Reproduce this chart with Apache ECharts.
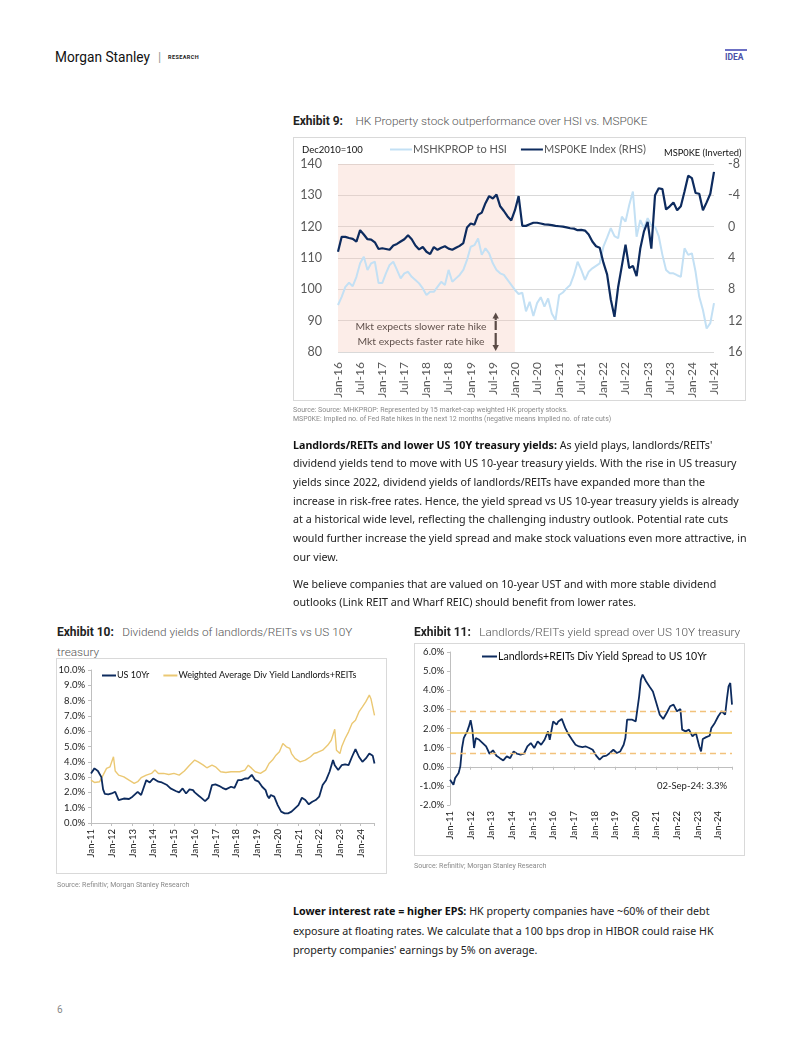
<!DOCTYPE html>
<html><head><meta charset="utf-8">
<script src="https://cdn.jsdelivr.net/npm/echarts@6/dist/echarts.min.js"></script>
<style>
html,body{margin:0;padding:0;background:#fff;}
#page{position:relative;width:802px;height:1037px;overflow:hidden;background:#fff;font-family:'Noto Sans',sans-serif;color:#222;}
.a{position:absolute;white-space:nowrap;}
.box{position:absolute;border:1px solid #d9d9d9;box-sizing:border-box;pointer-events:none;}
.ttl b{font-family:Roboto,sans-serif;font-weight:700;color:#222;font-size:12px;}
.ttl span{font-family:Roboto,sans-serif;font-weight:300;color:#555;font-size:11.8px;}
.src{font-family:Roboto,sans-serif;font-size:7px;line-height:9px;color:#8a8a8a;}
.para div{white-space:nowrap;}
.para b{color:#111;}
</style></head>
<body><div id="page">
  <div class="a" id="ms" style="left:55px;top:48px;font-family:Roboto,sans-serif;font-size:15px;line-height:18px;color:#111;transform-origin:0 50%;">Morgan Stanley</div>
  <div class="a" style="left:158px;top:49px;font-family:Roboto,sans-serif;font-size:13px;line-height:16px;color:#999;">|</div>
  <div class="a" style="left:168px;top:53px;font-family:Roboto,sans-serif;font-size:5.5px;line-height:8px;font-weight:700;letter-spacing:0.4px;color:#222;">RESEARCH</div>
  <div class="a" style="left:725px;top:49px;width:22px;border-top:2px solid #6c70c4;"></div>
  <div class="a" style="left:725px;top:52px;font-family:Roboto,sans-serif;font-size:8.5px;line-height:10px;font-weight:700;color:#4b50a8;">IDEA</div>

  <div class="a ttl" style="left:293px;top:111px;line-height:16px;"><b>Exhibit 9:</b>&nbsp;&nbsp; <span>HK Property stock outperformance over HSI vs. MSP0KE</span></div>
  <div class="a" id="c1" style="left:293px;top:137px;width:452px;height:264px;"></div>
  <div class="box" style="left:293px;top:137px;width:453px;height:264px;"></div>
  <div class="a src" style="left:293px;top:406px;">Source: Source: MHKPROP: Represented by 15 market-cap weighted HK property stocks.<br>MSP0KE: Implied no. of Fed Rate hikes in the next 12 months (negative means implied no. of rate cuts)</div>

  <div class="a para" style="left:293px;top:435.6px;line-height:18.7px;">
    <div><b>Landlords/REITs and lower US 10Y treasury yields:</b> As yield plays, landlords/REITs'</div>
    <div>dividend yields tend to move with US 10-year treasury yields. With the rise in US treasury</div>
    <div>yields since 2022, dividend yields of landlords/REITs have expanded more than the</div>
    <div>increase in risk-free rates. Hence, the yield spread vs US 10-year treasury yields is already</div>
    <div>at a historical wide level, reflecting the challenging industry outlook. Potential rate cuts</div>
    <div id="fitline">would further increase the yield spread and make stock valuations even more attractive, in</div>
    <div>our view.</div>
  </div>
  <div class="a para" style="left:293px;top:574.6px;line-height:18.7px;">
    <div>We believe companies that are valued on 10-year UST and with more stable dividend</div>
    <div>outlooks (Link REIT and Wharf REIC) should benefit from lower rates.</div>
  </div>

  <div class="a ttl" style="left:57px;top:621px;line-height:18px;"><b>Exhibit 10:</b>&nbsp; <span>Dividend yields of landlords/REITs vs US 10Y</span><br><span>treasury</span></div>
  <div class="a" id="c10" style="left:56px;top:658px;width:331px;height:216px;"></div>
  <div class="box" style="left:56px;top:658px;width:331px;height:216px;"></div>
  <div class="a src" style="left:57px;top:881px;">Source: Refinitiv; Morgan Stanley Research</div>

  <div class="a ttl" style="left:414px;top:622px;line-height:16px;"><b>Exhibit 11:</b>&nbsp; <span>Landlords/REITs yield spread over US 10Y treasury</span></div>
  <div class="a" id="c11" style="left:414px;top:643px;width:331px;height:213px;"></div>
  <div class="box" style="left:414px;top:643px;width:331px;height:213px;"></div>
  <div class="a src" style="left:414px;top:862px;">Source: Refinitiv; Morgan Stanley Research</div>

  <div class="a para" style="left:293px;top:902.3px;line-height:19.4px;">
    <div><b>Lower interest rate = higher EPS:</b> HK property companies have ~60% of their debt</div>
    <div>exposure at floating rates. We calculate that a 100 bps drop in HIBOR could raise HK</div>
    <div>property companies' earnings by 5% on average.</div>
  </div>

  <div class="a" style="left:57px;top:1003px;font-family:Roboto,sans-serif;font-size:10px;line-height:14px;color:#888;">6</div>
</div>
<script>
// ---------------- DATA ----------------
// Exhibit 9 (monthly, Jan-16 .. Jul-24)
const ex9Start = {year: 2016, month: 0};
const ex9Count = 103;
const mshkprop = [95,97.6,100.8,102.1,101,104,108.3,110.4,106.2,108.3,
  108.8,102,102,105.1,107.8,108.8,106.2,103.5,105.1,105.6,
  104,103,101.9,100.3,98.2,99.2,99.2,100.8,102.4,101.4,
  106.2,102.4,103.5,104.6,106.2,109.4,113.6,114.1,116.2,111,
  113.1,111.5,108.3,106.2,105.1,104.6,103,101.4,99.8,98.5,
  98.9,93,96,91.5,95.6,97.5,94.5,97.1,92.3,90.2,
  98.2,99,100.3,101.4,104.6,108.8,106.2,103,105.6,106.7,
  107.5,108.3,113.6,116.5,119.5,117,116.3,123.2,121.6,126.9,
  131.2,116.8,122.1,119.5,122.7,120.5,120,117,111,106.2,
  105.1,105.1,104.5,104,113.1,111,111.5,105.6,97.6,93.4,
  87.5,89.2,95.6];
const msp0ke = [3.2,1.3,1.3,1.45,1.55,1.9,0.45,1.0,1.6,1.65,
  2.0,2.85,2.75,2.85,2.95,2.4,2.2,1.9,1.6,1.1,
  1.6,2.4,2.9,2.6,3.2,3.5,2.6,2.95,2.7,2.5,
  2.8,2.95,2.7,2.45,2.1,0.1,-0.4,-0.25,-1.5,-1.8,
  -3.0,-3.9,-3.6,-4.1,-2.6,-2.0,-1.3,-0.8,-2.1,-3.9,
  -0.1,-0.1,-0.3,-0.5,-0.5,-0.4,-0.3,-0.25,-0.2,-0.1,
  -0.05,0.0,0.1,0.2,0.25,0.45,0.4,0.5,1.0,1.9,
  2.5,2.7,4.6,6.1,9.3,11.5,7.7,5.0,2.3,5.3,
  5.0,6.3,2.8,0.6,-0.6,2.8,-4.0,-4.9,-4.8,-2.2,
  -2.6,-3.1,-2.1,-2.6,-4.5,-6.5,-6.2,-4.3,-4.2,-2.1,
  -3.1,-4.2,-7.0];
const shadeFrom = 'Jan-16', shadeTo = 'Jan-20';
const leftTicks = {min: 80, max: 140, interval: 10};
const rightTicks = {min: -8, max: 16, interval: 4};

// Exhibit 10 & 11: [months since Jan-2011, value %]
const us10yr = [[0,3.24],[2,3.57],[4,3.4],[6,3.0],[7,2.2],[8,1.9],[10,1.87],[12,1.93],[14,2.04],[16,1.5],
  [19,1.6],[22,1.57],[24,1.72],[27,2.04],[29,1.83],[31,2.48],[32,2.8],[34,2.65],[36,2.91],[39,2.7],
  [41,2.65],[44,2.48],[46,2.26],[49,2.09],[51,2.0],[53,2.26],[55,1.93],[57,2.2],[59,2.15],[60,2.0],
  [63,1.72],[66,1.43],[68,1.65],[70,2.48],[72,2.52],[74,2.43],[76,2.3],[78,2.2],[81,2.37],[83,2.3],
  [85,2.8],[87,2.8],[89,2.91],[91,2.91],[93,3.15],[95,2.8],[97,2.7],[99,2.37],[101,2.15],[102,1.8],
  [103,1.61],[104,1.83],[106,1.72],[108,1.17],[110,0.74],[112,0.63],[114,0.63],[116,0.74],[118,0.96],[120,1.17],
  [122,1.65],[124,1.5],[126,1.22],[128,1.39],[130,1.5],[132,1.72],[134,2.48],[136,2.8],[138,3.35],[140,4.11],
  [141,3.78],[143,3.46],[145,3.78],[147,3.83],[149,3.78],[151,4.33],[153,4.83],[155,4.33],[157,4.0],[159,4.22],
  [161,4.54],[163,4.39],[164,3.89]];
const divYield = [[0,2.8],[2,2.65],[5,2.7],[7,3.13],[9,3.57],[11,3.67],[13,4.33],[14,3.4],[16,3.13],[19,3.02],
  [22,2.8],[25,2.59],[27,2.7],[29,2.96],[32,3.13],[35,3.24],[37,3.46],[39,3.24],[42,3.24],[45,3.17],
  [48,3.24],[51,3.13],[54,3.4],[57,3.78],[60,4.11],[62,4.0],[65,3.78],[67,3.61],[70,3.78],[72,3.67],
  [75,3.35],[78,3.3],[81,3.35],[84,3.35],[86,3.35],[89,3.46],[91,3.78],[93,3.57],[95,3.35],[98,3.24],
  [101,3.46],[103,3.89],[105,4.11],[107,4.43],[109,4.65],[111,5.2],[113,4.98],[115,4.87],[116,4.54],[118,4.22],
  [121,4.0],[124,4.11],[127,4.33],[129,4.54],[131,4.61],[134,4.76],[137,5.09],[139,5.41],[141,6.13],[142,4.76],
  [144,4.54],[145,4.98],[147,5.52],[149,5.96],[151,6.5],[153,6.72],[155,7.26],[157,7.59],[159,7.93],[161,8.36],
  [162,8.1],[164,7.04]];
const spread = [[0,-0.68],[1,-0.77],[2,-0.94],[3,-0.59],[5,-0.33],[6,0.02],[7,0.98],[8,1.5],[9,1.68],[10,1.85],
  [11,2.11],[12,2.43],[13,1.94],[14,0.98],[15,1.5],[17,1.41],[19,1.24],[21,1.06],[23,0.68],[25,0.86],
  [27,0.58],[29,0.45],[31,0.33],[33,0.54],[35,0.45],[37,0.8],[39,0.68],[41,0.63],[43,0.68],[45,1.06],
  [47,1.24],[49,0.98],[51,1.33],[53,1.15],[55,1.41],[57,1.85],[58,1.41],[60,2.37],[62,2.2],[63,2.37],
  [65,2.5],[67,2.03],[69,1.68],[71,1.41],[73,1.15],[75,1.06],[77,1.03],[79,1.06],[81,0.98],[83,0.89],
  [85,0.58],[87,0.37],[89,0.54],[91,0.58],[93,0.72],[95,0.89],[97,0.72],[99,0.8],[101,1.15],[102,1.5],
  [103,2.46],[104,2.37],[106,2.46],[108,2.37],[110,3.68],[111,4.55],[112,4.82],[114,4.47],[116,4.2],[118,3.94],
  [120,3.33],[122,2.72],[124,2.5],[126,2.81],[128,3.16],[130,3.25],[132,2.9],[134,3.02],[135,1.94],[137,1.85],
  [139,1.94],[141,1.59],[143,1.76],[145,1.06],[146,0.8],[147,1.45],[149,1.55],[151,1.62],[152,2.03],[154,2.29],
  [156,2.64],[158,2.9],[160,2.72],[161,3.51],[162,4.2],[163,4.38],[164,3.25]];
const spreadMean = 1.78, spreadUpper = 2.88, spreadLower = 0.68;
const spreadNote = '02-Sep-24: 3.3%';
const yearAxis = {min: 2011, lastMonth: 164, interval: 1};

// ---------------- HELPERS ----------------
const MON = ['Jan','Feb','Mar','Apr','May','Jun','Jul','Aug','Sep','Oct','Nov','Dec'];
const months = [];
for (let i = 0; i < ex9Count; i++) {
  const t = ex9Start.year * 12 + ex9Start.month + i;
  months.push(MON[t % 12] + '-' + String(Math.floor(t / 12)).slice(2));
}
const toYear = arr => arr.map(([m, v]) => [yearAxis.min + m / 12, v]);
const xMax = yearAxis.min + yearAxis.lastMonth / 12;
const yearLabel = v => (Math.abs(v - Math.round(v)) < 1e-6) ? 'Jan-' + String(Math.round(v)).slice(2) : '';
const pct = v => v.toFixed(1) + '%';
const ctx = document.createElement('canvas').getContext('2d');
function measure(text, font) { ctx.font = font; return ctx.measureText(text).width; }

// fit body text
const bodySize = 100 * 454 / measure(document.getElementById('fitline').textContent, "400 100px 'Noto Sans'");
document.querySelectorAll('.para').forEach(e => e.style.fontSize = bodySize.toFixed(2) + 'px');
const ms = document.getElementById('ms');
ms.style.transform = 'scaleX(' + (95 / measure('Morgan Stanley', "400 15px Roboto")).toFixed(3) + ')';

const NAVY = '#0d2b5e', LIGHT = '#c3e0f4', GOLD = '#ebc873';
const FF = 'Lato, sans-serif';
const leg1Font = 11.3 * 94 / (measure('MSHKPROP to HSI', '11.3px Lato'));
const leg11Font = 100 * 209 / measure('Landlords+REITs Div Yield Spread to US 10Yr', '100px Lato');

// ---------------- EXHIBIT 9 ----------------
const annFont = 100 * 131 / measure('Mkt expects slower rate hike', '100px Lato');
const c1 = echarts.init(document.getElementById('c1'));
c1.setOption({
  animation: false,
  textStyle: {fontFamily: FF},
  grid: {left: 45, right: 31, top: 27, bottom: 49, containLabel: false, outerBoundsMode: 'none'},
  legend: {
    left: 97, top: 7, padding: 0, itemGap: 14, itemWidth: 22, itemHeight: 2, icon: 'rect',
    textStyle: {fontSize: leg1Font, color: '#595959', fontFamily: FF, padding: [0, 0, 0, -4]},
    data: ['MSHKPROP to HSI', 'MSP0KE Index (RHS)']
  },
  xAxis: {
    type: 'category', data: months, boundaryGap: false,
    axisLine: {show: false}, axisTick: {show: false}, splitLine: {show: false},
    axisLabel: {interval: 5, rotate: 90, fontSize: 12, color: '#595959', margin: 10, fontFamily: FF}
  },
  yAxis: [
    {type: 'value', min: leftTicks.min, max: leftTicks.max, interval: leftTicks.interval,
     axisLine: {show: false}, axisTick: {show: false},
     axisLabel: {fontSize: 12.5, color: '#595959', margin: 16, fontFamily: FF},
     splitLine: {lineStyle: {color: '#d9d9d9', width: 1}}},
    {type: 'value', min: rightTicks.min, max: rightTicks.max, interval: rightTicks.interval, inverse: true, position: 'right',
     axisLine: {show: false}, axisTick: {show: false},
     axisLabel: {fontSize: 12.5, color: '#595959', margin: 14, fontFamily: FF},
     splitLine: {show: false}}
  ],
  series: [
    {type: 'line', name: 'shade', data: [], silent: true, z: 1,
     markArea: {silent: true, itemStyle: {color: 'rgba(247,200,182,0.32)'}, data: [[{xAxis: shadeFrom}, {xAxis: shadeTo}]]}},
    {type: 'line', name: 'MSHKPROP to HSI', data: mshkprop, yAxisIndex: 0, showSymbol: false, symbol: 'none', z: 3,
     lineStyle: {color: LIGHT, width: 2}, itemStyle: {color: LIGHT}},
    {type: 'line', name: 'MSP0KE Index (RHS)', data: msp0ke, yAxisIndex: 1, showSymbol: false, symbol: 'none', z: 4,
     lineStyle: {color: NAVY, width: 2.2}, itemStyle: {color: NAVY}}
  ],
  graphic: [
    {type: 'text', left: 9, top: 8, style: {text: 'Dec2010=100', font: '9.5px Lato', fill: '#111'}},
    {type: 'text', left: 371, top: 11, style: {text: 'MSP0KE (Inverted)', font: '9.3px Lato', fill: '#111'}},
    {type: 'text', x: 128, y: 190, style: {text: 'Mkt expects slower rate hike', font: annFont.toFixed(2) + 'px Lato', fill: '#111', align: 'center', verticalAlign: 'middle'}},
    {type: 'text', x: 128, y: 204.5, style: {text: 'Mkt expects faster rate hike', font: annFont.toFixed(2) + 'px Lato', fill: '#111', align: 'center', verticalAlign: 'middle'}},
    {type: 'line', shape: {x1: 202.7, y1: 180, x2: 202.7, y2: 193}, style: {stroke: '#111', lineWidth: 2.2}},
    {type: 'polygon', shape: {points: [[202.7, 175.5], [199.5, 181.5], [205.9, 181.5]]}, style: {fill: '#111'}},
    {type: 'line', shape: {x1: 202.7, y1: 196, x2: 202.7, y2: 209}, style: {stroke: '#111', lineWidth: 2.2}},
    {type: 'polygon', shape: {points: [[202.7, 214], [199.5, 208], [205.9, 208]]}, style: {fill: '#111'}}
  ]
});

// ---------------- EXHIBIT 10 ----------------
const axisGray = '#bfbfbf';
const c10 = echarts.init(document.getElementById('c10'));
c10.setOption({
  animation: false,
  textStyle: {fontFamily: FF},
  grid: {left: 35, right: 12.5, top: 12, bottom: 51, containLabel: false, outerBoundsMode: 'none'},
  legend: {
    left: 46, top: 13, padding: 0, itemGap: 14, itemWidth: 14, itemHeight: 2, icon: 'rect',
    textStyle: {fontSize: 9, color: '#111', fontFamily: FF, padding: [0, 0, 0, -4]},
    data: ['US 10Yr', 'Weighted Average Div Yield Landlords+REITs']
  },
  xAxis: {
    type: 'value', min: yearAxis.min, max: xMax, interval: yearAxis.interval,
    axisLine: {lineStyle: {color: axisGray}}, axisTick: {lineStyle: {color: axisGray}, length: 3},
    splitLine: {show: false},
    axisLabel: {rotate: 90, fontSize: 9.5, color: '#222', margin: 6, formatter: yearLabel, fontFamily: FF}
  },
  yAxis: {
    type: 'value', min: 0, max: 10, interval: 1,
    axisLine: {show: true, lineStyle: {color: axisGray}}, axisTick: {show: true, lineStyle: {color: axisGray}, length: 3},
    splitLine: {show: false},
    axisLabel: {fontSize: 9.5, color: '#222', margin: 6, formatter: pct, fontFamily: FF}
  },
  series: [
    {type: 'line', name: 'US 10Yr', data: toYear(us10yr), showSymbol: false, symbol: 'none', z: 4,
     lineStyle: {color: NAVY, width: 1.8}, itemStyle: {color: NAVY}},
    {type: 'line', name: 'Weighted Average Div Yield Landlords+REITs', data: toYear(divYield), showSymbol: false, symbol: 'none', z: 3,
     lineStyle: {color: GOLD, width: 1.4}, itemStyle: {color: GOLD}}
  ]
});

// ---------------- EXHIBIT 11 ----------------
const c11 = echarts.init(document.getElementById('c11'));
c11.setOption({
  animation: false,
  textStyle: {fontFamily: FF},
  grid: {left: 36, right: 13, top: 9, bottom: 51, containLabel: false, outerBoundsMode: 'none'},
  legend: {
    left: 68, top: 8, padding: 0, itemWidth: 15, itemHeight: 2, icon: 'rect',
    textStyle: {fontSize: leg11Font, color: '#111', fontFamily: FF, padding: [0, 0, 0, -4]},
    data: ['Landlords+REITs Div Yield Spread to US 10Yr']
  },
  xAxis: [
    {type: 'value', min: yearAxis.min, max: xMax, interval: yearAxis.interval, position: 'bottom',
     axisLine: {onZero: true, lineStyle: {color: axisGray}}, axisTick: {lineStyle: {color: axisGray}, length: 3},
     splitLine: {show: false}, axisLabel: {show: false}},
    {type: 'value', min: yearAxis.min, max: xMax, interval: yearAxis.interval, position: 'bottom',
     axisLine: {show: false, onZero: false}, axisTick: {show: false}, splitLine: {show: false},
     axisLabel: {rotate: 90, fontSize: 9.5, color: '#222', margin: 6, formatter: yearLabel, fontFamily: FF}}
  ],
  yAxis: {
    type: 'value', min: -2, max: 6, interval: 1,
    axisLine: {show: true, onZero: false, lineStyle: {color: axisGray}}, axisTick: {show: true, lineStyle: {color: axisGray}, length: 3},
    splitLine: {show: false},
    axisLabel: {fontSize: 9.5, color: '#222', margin: 6, formatter: pct, fontFamily: FF}
  },
  series: [
    {type: 'line', name: 'Landlords+REITs Div Yield Spread to US 10Yr', data: toYear(spread), xAxisIndex: 0,
     showSymbol: false, symbol: 'none', z: 3,
     lineStyle: {color: NAVY, width: 1.8}, itemStyle: {color: NAVY},
     markLine: {silent: true, symbol: 'none', label: {show: false},
       data: [
         {yAxis: spreadMean, lineStyle: {type: 'solid', color: '#f0c455', width: 1.6}},
         {yAxis: spreadUpper, lineStyle: {type: [6, 4], color: '#f2c27c', width: 1.4}},
         {yAxis: spreadLower, lineStyle: {type: [6, 4], color: '#f2c27c', width: 1.4}}
       ]}}
  ],
  graphic: [
    {type: 'text', x: 278, y: 143, style: {text: spreadNote, font: '9.5px Lato', fill: '#222', align: 'center', verticalAlign: 'middle'}}
  ]
});
</script>
</body></html>
